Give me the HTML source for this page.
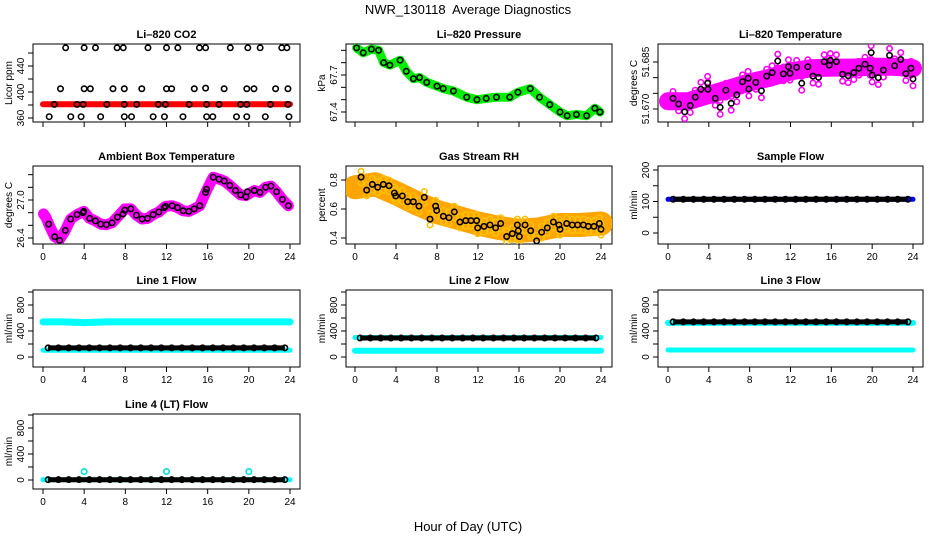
<!DOCTYPE html>
<html><head><meta charset="utf-8">
<style>
html,body{margin:0;padding:0;background:#fff;}
svg{display:block;font-family:"Liberation Sans",sans-serif;}
</style></head>
<body>
<svg id="chart" width="936" height="540" viewBox="0 0 936 540" xmlns="http://www.w3.org/2000/svg">
<rect width="936" height="540" fill="#fff"/>
<text x="468" y="14" font-size="13" text-anchor="middle" xml:space="preserve">NWR_130118  Average Diagnostics</text>
<text x="468" y="531" font-size="13" text-anchor="middle">Hour of Day (UTC)</text>
</svg>
<script>
// ---------- data ----------
const xTicks = [0,4,8,12,16,20,24];
const hours24 = [0.5,1.5,2.5,3.5,4.5,5.5,6.5,7.5,8.5,9.5,10.5,11.5,12.5,13.5,14.5,15.5,16.5,17.5,18.5,19.5,20.5,21.5,22.5,23.5];
const bandHours = [0,2,4,6,8,10,12,14,16,18,20,22,24];

const co2Hours = [2.2,4.0,5.1,7.2,7.8,10.2,12.0,13.1,15.2,15.8,18.2,19.9,21.1,23.2,23.7, 1.7,4.0,4.6,6.8,7.9,9.6,12.0,12.5,14.7,15.8,17.6,19.8,20.5,22.6,23.8, 0.6,2.7,3.7,5.6,7.9,8.6,10.7,11.8,13.6,15.9,16.5,18.8,19.8,21.6,23.9, 1.1,3.3,3.9,6.2,7.9,9.1,11.2,11.9,14.2,15.9,17.1,19.2,19.8,22.1,23.8];
const co2Vals = [468,468,468,468,468,468,468,468,468,468,468,468,468,468,468, 405,405,405,405,405,405,405,405,405,406,405,405,405,405,405, 362,362,362,362,362,362,362,362,362,362,362,362,362,362,362, 381,381,381,381,381,381,381,381,381,381,381,381,381,381,381];
const co2Band = [381,381,381,381,381,381,381,381,381,381,381,381,381];

const presHours = [0.16,0.8,1.6,2.3,2.8,3.4,4.4,5.0,5.7,6.3,7.0,8.0,8.6,9.6,10.9,11.9,12.8,13.8,15.1,15.9,17.1,18.0,19.0,20.0,20.7,21.6,22.6,23.4,23.9];
const presVals = [67.92,67.88,67.91,67.90,67.80,67.78,67.82,67.73,67.67,67.68,67.64,67.61,67.59,67.57,67.52,67.50,67.51,67.52,67.52,67.56,67.59,67.52,67.46,67.40,67.37,67.38,67.37,67.43,67.40];

const tempHours = [0.49,1.04,1.63,2.18,2.67,3.22,3.88,3.91,4.63,5.11,5.67,6.19,6.74,7.30,7.85,7.92,8.60,9.15,9.67,10.2,10.75,11.3,11.8,11.95,12.6,13.1,13.7,14.2,14.75,15.3,15.8,15.9,16.5,17.1,17.65,18.2,18.7,19.3,19.8,19.9,20.0,20.6,21.1,21.7,22.2,22.8,23.3,23.8,24.0];
const tempVals = [51.6734,51.6716,51.6691,51.6711,51.6738,51.6763,51.6782,51.6763,51.6734,51.6705,51.6760,51.6718,51.6745,51.6787,51.6798,51.6764,51.6785,51.6758,51.6805,51.6816,51.6853,51.6812,51.6835,51.6814,51.6833,51.6782,51.6835,51.6805,51.6801,51.6851,51.6840,51.6855,51.6851,51.6811,51.6806,51.6816,51.6830,51.6843,51.6830,51.6880,51.6808,51.6800,51.6824,51.6871,51.6838,51.6858,51.6813,51.6830,51.6796];
const tempBand = [51.6725,51.6725,51.6745,51.6765,51.6785,51.6800,51.6820,51.6830,51.6832,51.6832,51.6835,51.6835,51.6830];

const ambHours = [0.55,1.14,1.62,2.17,2.69,3.31,3.89,3.96,4.54,5.09,5.61,6.16,6.71,7.23,7.78,7.95,8.53,9.08,9.63,10.15,10.7,11.25,11.77,11.9,12.55,13.07,13.62,14.17,14.69,15.24,15.8,15.89,16.54,17.1,17.61,18.16,18.7,19.2,19.72,19.85,20.53,21.08,21.63,22.15,22.7,23.26,23.84];
const ambVals = [26.62,26.42,26.36,26.52,26.70,26.77,26.80,26.82,26.71,26.67,26.62,26.61,26.64,26.73,26.78,26.84,26.86,26.76,26.70,26.71,26.77,26.81,26.88,26.90,26.91,26.88,26.83,26.82,26.86,26.91,27.12,27.17,27.36,27.33,27.30,27.23,27.15,27.08,27.05,27.13,27.15,27.12,27.20,27.22,27.13,27.01,26.91];
const ambBandHours = [0.05,0.3,0.55,1.14,1.62,2.17,2.69,3.31,3.96,4.54,5.09,5.61,6.16,6.71,7.23,7.95,8.53,9.08,9.63,10.15,10.7,11.25,11.9,12.55,13.07,13.62,14.17,14.69,15.24,15.8,16.54,17.1,17.61,18.16,18.7,19.2,19.72,20.53,21.08,21.63,22.15,22.7,23.26,23.84];
const ambBandVals = [26.78,26.72,26.62,26.42,26.38,26.52,26.70,26.77,26.82,26.71,26.67,26.62,26.61,26.64,26.73,26.86,26.86,26.76,26.70,26.71,26.77,26.81,26.90,26.91,26.88,26.83,26.82,26.86,26.91,27.12,27.36,27.33,27.30,27.23,27.15,27.08,27.07,27.15,27.12,27.20,27.22,27.13,27.01,26.91];

const rhHours = [0.59,1.14,1.69,2.21,2.76,3.32,3.84,3.97,4.62,5.14,5.69,6.24,6.76,7.32,7.87,7.97,8.62,9.17,9.69,10.24,10.8,11.32,11.87,11.97,12.59,13.17,13.72,14.21,14.8,15.35,15.84,15.93,16.03,16.59,17.14,17.72,18.21,18.76,19.35,19.9,20.0,20.65,21.2,21.72,22.28,22.76,23.32,23.84,24.0];
const rhVals = [0.82,0.73,0.77,0.75,0.77,0.76,0.71,0.69,0.69,0.65,0.65,0.62,0.68,0.53,0.62,0.59,0.55,0.54,0.58,0.51,0.52,0.52,0.52,0.47,0.48,0.49,0.47,0.50,0.41,0.43,0.49,0.45,0.41,0.49,0.45,0.38,0.44,0.47,0.51,0.49,0.46,0.50,0.49,0.49,0.49,0.48,0.48,0.50,0.46];
const rhBand = [0.75,0.77,0.71,0.64,0.58,0.54,0.50,0.47,0.45,0.46,0.49,0.49,0.50];

const sampleVals = [107,107,107,107,107,107,107,107,107,107,107,107,107,107,107,107,107,107,107,107,107,107,107,107];
const sampleBand = [107,107,107,107,107,107,107,107,107,107,107,107,107];

const line1Black = [140,140,140,140,140,140,140,140,140,140,140,140,140,140,140,140,140,140,140,140,140,140,140,140];
const line1CyanHi = [540,540,530,540,540,540,540,540,540,540,540,540,540];
const line1CyanLo = [105,105,105,105,105,105,105,105,105,105,105,105,105];
const line2Black = [292,292,292,292,292,292,292,292,292,292,292,292,292,292,292,292,292,292,292,292,292,292,292,292];
const line2CyanHi = [300,300,300,300,300,300,300,300,300,300,300,300,300];
const line2CyanLo = [95,95,95,95,95,95,95,95,95,95,95,95,95];
const line3Black = [540,540,540,540,540,540,540,540,540,540,540,540,540,540,540,540,540,540,540,540,540,540,540,540];
const line3CyanHi = [525,525,525,525,525,525,525,525,525,525,525,525,525];
const line3CyanLo = [108,108,108,108,108,108,108,108,108,108,108,108,108];
const line4Black = [5,5,5,5,5,5,5,5,5,5,5,5,5,5,5,5,5,5,5,5,5,5,5,5];
const line4CyanLo = [5,5,5,5,5,5,5,5,5,5,5,5,5];
const line4SpikeHours = [4,12,20];
const line4SpikeVals = [130,130,130];

// ---------- layout ----------
const NS = "http://www.w3.org/2000/svg";
const svg = document.getElementById('chart');
const colL = [33,346,658], colR = [300,612,923];
const colX0 = [43,355,668], colX24 = [290,601,913];
const rowT = [44,166,290,414], rowB = [122,244,367,489];

function mk(tag, attrs, parent){
  const e = document.createElementNS(NS, tag);
  for (const k in attrs) e.setAttribute(k, attrs[k]);
  (parent||svg).appendChild(e);
  return e;
}

function panel(name, col, row, title, ylab, v1, p1, v2, p2, yTicks, yLabels, showX){
  const g = mk('g', {});
  
  
  const L = colL[col], R = colR[col], T = rowT[row], B = rowB[row];
  const xs = h => colX0[col] + h * (colX24[col] - colX0[col]) / 24;
  const ys = v => p1 + (v - v1) * (p2 - p1) / (v2 - v1);
  const t = mk('text', {x:(L+R)/2, y:T-6, 'font-size':11, 'font-weight':'bold', 'text-anchor':'middle'}, g);
  t.textContent = title;
  
  
  const box = mk('rect', {x:L, y:T, width:R-L, height:B-T, fill:'none', stroke:'#000', 'stroke-width':1}, g);
  
  
  const ya = mk('g', {}, g);
  
  
  yTicks.forEach(v => {
    const y = ys(v);
    mk('line', {x1:L-5, x2:L, y1:y, y2:y, stroke:'#000'}, ya);
  });
  yLabels.forEach(v => {
    const y = ys(v);
    const lb = mk('text', {x:0, y:0, 'font-size':10, 'text-anchor':'middle', transform:`translate(${L-9},${y}) rotate(-90)`}, ya);
    lb.textContent = String(v);
    
    
  });
  const yt = mk('text', {x:0, y:0, 'font-size':10, 'text-anchor':'middle', transform:`translate(${L-21},${(T+B)/2}) rotate(-90)`}, g);
  yt.textContent = ylab;
  
  
  const xa = mk('g', {}, g);
  
  
  xTicks.forEach(h => {
    const x = xs(h);
    mk('line', {x1:x, x2:x, y1:B, y2:B+5, stroke:'#000'}, xa);
    if (showX){
      const lb = mk('text', {x:x, y:B+16, 'font-size':10, 'text-anchor':'middle'}, xa);
      lb.textContent = String(h);
      
      
    }
  });
  const clipId = 'clip' + name;
  const cp = mk('clipPath', {id:clipId}, g);
  mk('rect', {x:L, y:T, width:R-L, height:B-T}, cp);
  const dg = mk('g', {'clip-path':`url(#${clipId})`}, g);
  return {xs, ys, g:dg};
}

function band(p, name, hs, vs, color, w){
  const pts = hs.map((h,i) => p.xs(h).toFixed(1) + ',' + p.ys(vs[i]).toFixed(1)).join(' ');
  const e = mk('polyline', {points:pts, fill:'none', stroke:color, 'stroke-width':w, 'stroke-linecap':'round', 'stroke-linejoin':'round'}, p.g);
  
  
}
function points(p, name, hs, vs, color, joinW){
  if (joinW){
    const pts = hs.map((h,i) => p.xs(h).toFixed(1) + ',' + p.ys(vs[i]).toFixed(1)).join(' ');
    mk('polyline', {points:pts, fill:'none', stroke:color, 'stroke-width':joinW}, p.g);
  }
  hs.forEach((h,i) => {
    const c = mk('circle', {cx:p.xs(h), cy:p.ys(vs[i]), r:2.7, fill:'none', stroke:color, 'stroke-width':1.6}, p.g);
    
    
  });
}

const flowTicks = [0,200,400,600,800,1000], flowLabels = [0,400,800];

p = panel('co2', 0, 0, 'Li\u2013820 CO2', 'Licor ppm', 360,118, 440,66, [360,380,400,420,440,460], [360,400,440], false);
band(p, 'co2-raw-band', bandHours, co2Band, '#ff0000', 6);
points(p, 'co2-point', co2Hours, co2Vals, '#000');

p = panel('pressure', 1, 0, 'Li\u2013820 Pressure', 'kPa', 67.4,112, 67.7,75, [67.4,67.5,67.6,67.7,67.8,67.9], ['67.4','67.7'], false);
band(p, 'pressure-raw-band', presHours, presVals, '#00ee00', 9);
points(p, 'pressure-point', presHours, presVals, '#000');

p = panel('li820-temp', 2, 0, 'Li\u2013820 Temperature', 'degrees C', 51.670,109, 51.685,62, [51.670,51.675,51.680,51.685], ['51.670','51.685'], false);
band(p, 'temp-raw-band', bandHours, tempBand, '#ff00ff', 18);
points(p, 'temp-raw-point', tempHours, tempVals.map(v=>v+0.0022), '#ff00ff');
points(p, 'temp-raw-point', tempHours, tempVals.map(v=>v-0.0022), '#ff00ff');
points(p, 'temp-point', tempHours, tempVals, '#000');

p = panel('ambient', 0, 1, 'Ambient Box Temperature', 'degrees C', 26.4,238, 27.0,200, [26.4,26.6,26.8,27.0,27.2,27.4], ['26.4','27.0'], true);
band(p, 'ambient-raw-band', ambBandHours, ambBandVals, '#ff00ff', 11);
points(p, 'ambient-point', ambHours, ambVals, '#000');

p = panel('rh', 1, 1, 'Gas Stream RH', 'percent', 0.4,238, 0.8,180, [0.4,0.6,0.8], ['0.4','0.6','0.8'], true);
band(p, 'rh-raw-band', bandHours, rhBand, '#ffa500', 24);
points(p, 'rh-raw-point', rhHours, rhVals.map(v=>v+0.04), '#ffc000');
points(p, 'rh-raw-point', rhHours, rhVals.map(v=>v-0.04), '#ffc000');
points(p, 'rh-point', rhHours, rhVals, '#000');

p = panel('sample-flow', 2, 1, 'Sample Flow', 'ml/min', 0,233, 200,170, [0,50,100,150,200], [0,100,200], true);
band(p, 'sample-raw-band', bandHours, sampleBand, '#0000ff', 5);
points(p, 'sample-point', hours24, sampleVals, '#000', 5);

p = panel('line1', 0, 2, 'Line 1 Flow', 'ml/min', 0,357, 400,331, flowTicks, flowLabels, true);
band(p, 'line1-cyan-high', bandHours, line1CyanHi, '#00ffff', 7);
band(p, 'line1-cyan-low', bandHours, line1CyanLo, '#00ffff', 5);
points(p, 'line1-point', hours24, line1Black, '#000', 5);

p = panel('line2', 1, 2, 'Line 2 Flow', 'ml/min', 0,357, 400,331, flowTicks, flowLabels, true);
band(p, 'line2-cyan-high', bandHours, line2CyanHi, '#00ffff', 5);
band(p, 'line2-cyan-low', bandHours, line2CyanLo, '#00ffff', 6);
points(p, 'line2-point', hours24, line2Black, '#000', 5);

p = panel('line3', 2, 2, 'Line 3 Flow', 'ml/min', 0,357, 400,331, flowTicks, flowLabels, true);
band(p, 'line3-cyan-high', bandHours, line3CyanHi, '#00ffff', 6);
band(p, 'line3-cyan-low', bandHours, line3CyanLo, '#00ffff', 5);
points(p, 'line3-point', hours24, line3Black, '#000', 5);

p = panel('line4', 0, 3, 'Line 4 (LT) Flow', 'ml/min', 0,480, 400,454, flowTicks, flowLabels, true);
band(p, 'line4-cyan-low', bandHours, line4CyanLo, '#00ffff', 5);
points(p, 'line4-point', hours24, line4Black, '#000', 5);
points(p, 'line4-spike', line4SpikeHours, line4SpikeVals, '#00e0e0');
</script>
</body></html>
